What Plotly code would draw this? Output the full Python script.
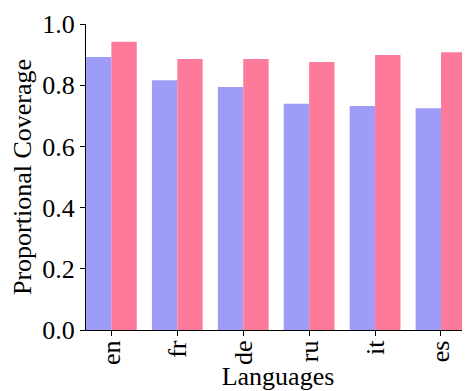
import plotly.graph_objects as go

languages = ["en", "fr", "de", "ru", "it", "es"]
series_a = [0.892, 0.816, 0.794, 0.739, 0.732, 0.725]
series_b = [0.942, 0.886, 0.886, 0.876, 0.899, 0.908]

font = dict(family="Liberation Serif", size=26, color="black")

fig = go.Figure()
fig.add_bar(x=languages, y=series_a, marker=dict(color="#9d9df7", line=dict(width=0)), name="A")
fig.add_bar(x=languages, y=series_b, marker=dict(color="#fd7a9b", line=dict(width=0)), name="B")

# page body has an 8px default margin; compensate in figure size/margins
fig.update_layout(
    width=462, height=383,
    margin=dict(l=78, r=0, t=16, b=61, autoexpand=False),
    barmode="group", bargap=0.23, bargroupgap=0,
    showlegend=False,
    plot_bgcolor="white", paper_bgcolor="white",
    font=font,
)
fig.update_xaxes(
    range=[-0.385, 5.44], tickangle=-90, automargin=False,
    showline=True, linecolor="black", linewidth=1.2,
    ticks="outside", ticklen=5, tickcolor="black",
    ticklabelstandoff=-6,
    showgrid=False, zeroline=False,
    title=dict(text="Languages", standoff=0, font=font),
    tickfont=font,
)
fig.update_yaxes(
    range=[0, 1.0], tickvals=[0, 0.2, 0.4, 0.6, 0.8, 1.0],
    ticktext=["0.0", "0.2", "0.4", "0.6", "0.8", "1.0"], automargin=False,
    showline=True, linecolor="black", linewidth=1.2,
    ticks="outside", ticklen=5, tickcolor="black",
    showgrid=False, zeroline=False,
    title=dict(text="Proportional Coverage", standoff=6, font=font),
    tickfont=font,
)
fig.write_html("out.html")
